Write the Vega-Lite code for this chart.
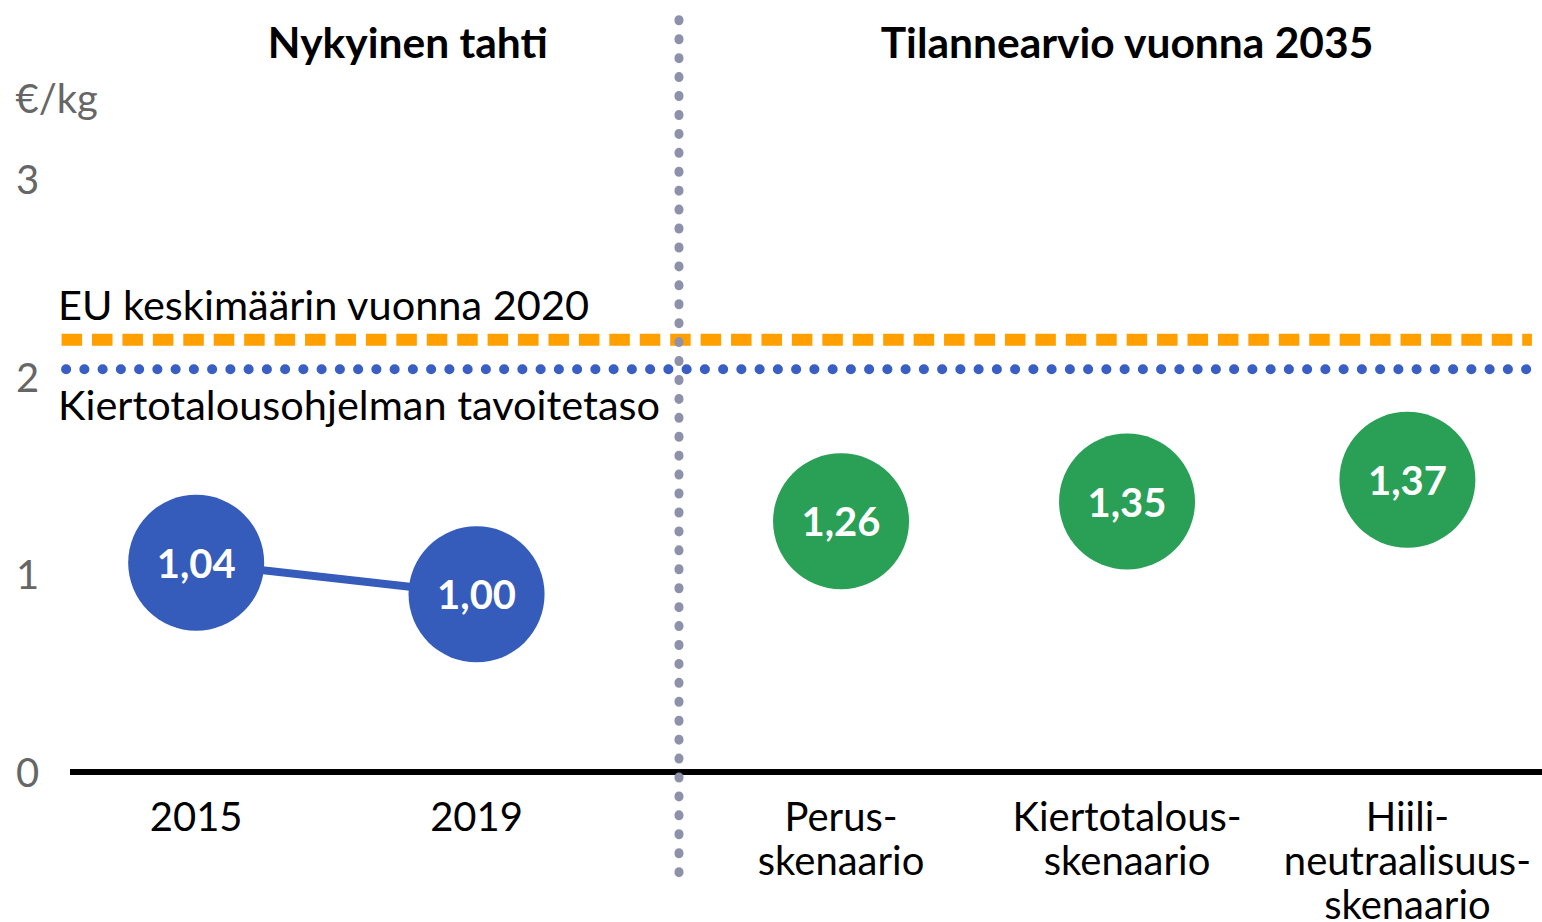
{
  "$schema": "https://vega.github.io/schema/vega-lite/v6.json",
  "width": 1472,
  "height": 691,
  "autosize": {"type": "none"},
  "padding": {"left": 70, "top": 81, "right": 0, "bottom": 150},
  "background": "white",
  "config": {"view": {"stroke": null}, "font": "Lato"},
  "datasets": {
    "points": [
      {"cat": "2015", "pos": 1, "value": 1.06, "label": "1,04", "group": "current"},
      {"cat": "2019", "pos": 2, "value": 0.9, "label": "1,00", "group": "current"},
      {"cat": "Perus-\nskenaario", "pos": 3.3, "value": 1.27, "label": "1,26", "group": "scenario"},
      {"cat": "Kiertotalous-\nskenaario", "pos": 4.32, "value": 1.37, "label": "1,35", "group": "scenario"},
      {"cat": "Hiili-\nneutraalisuus-\nskenaario", "pos": 5.32, "value": 1.48, "label": "1,37", "group": "scenario"}
    ],
    "titles": [
      {"text": "Nykyinen tahti", "pos": 1.755, "value": 3.616},
      {"text": "Tilannearvio vuonna 2035", "pos": 4.32, "value": 3.616}
    ],
    "reflabels": [
      {"text": "EU keskimäärin vuonna 2020", "pos": 0.507, "value": 2.29},
      {"text": "Kiertotalousohjelman tavoitetaso", "pos": 0.507, "value": 1.785}
    ]
  },
  "layer": [
    {
      "data": {"values": [{"x": 0.55, "x2": 5.8, "y": 0}]},
      "mark": {"type": "rule", "color": "black", "strokeWidth": 6},
      "encoding": {
        "x": {"field": "x", "type": "quantitative", "scale": {"domain": [0.55, 5.8], "nice": false, "zero": false}, "axis": null},
        "x2": {"field": "x2"},
        "y": {"field": "y", "type": "quantitative", "scale": {"domain": [0, 3.5], "nice": false, "zero": false},
          "axis": {"values": [0, 1, 2, 3], "format": "d", "domain": false, "ticks": false, "grid": false, "labelFontSize": 40, "labelColor": "#666666",
            "labelAlign": "center", "labelPadding": 43, "labelBaseline": "middle", "labelFont": "Lato", "labelOffset": 2,
            "title": "€/kg", "titleAngle": 0, "titleAlign": "left", "titleBaseline": "middle", "titleX": -55, "titleY": 19,
            "titleFontSize": 40, "titleFontWeight": "normal", "titleColor": "#666666", "titleFont": "Lato"}}
      }
    },
    {
      "data": {"values": [{"x": 0.52, "x2": 5.764, "y": 2.19}]},
      "mark": {"type": "rule", "color": "#FFA000", "strokeWidth": 12, "strokeDash": [20.5, 9.93], "strokeCap": "butt"},
      "encoding": {
        "x": {"field": "x", "type": "quantitative"},
        "x2": {"field": "x2"},
        "y": {"field": "y", "type": "quantitative"}
      }
    },
    {
      "data": {"values": [{"x": 0.536, "x2": 5.747, "y": 2.04}]},
      "mark": {"type": "rule", "color": "#3A5FC4", "strokeWidth": 10, "strokeDash": [0.1, 18.15], "strokeCap": "round"},
      "encoding": {
        "x": {"field": "x", "type": "quantitative"},
        "x2": {"field": "x2"},
        "y": {"field": "y", "type": "quantitative"}
      }
    },
    {
      "data": {"values": [{"x": 2.722, "y": 3.81, "y2": -0.51}]},
      "mark": {"type": "rule", "color": "#8D91AA", "strokeWidth": 9, "strokeDash": [1, 17.93], "strokeCap": "round"},
      "encoding": {
        "x": {"field": "x", "type": "quantitative"},
        "y": {"field": "y", "type": "quantitative"},
        "y2": {"field": "y2"}
      }
    },
    {
      "data": {"name": "points"},
      "transform": [{"filter": "datum.group === 'current'"}],
      "mark": {"type": "line", "color": "#355BBB", "strokeWidth": 8},
      "encoding": {
        "x": {"field": "pos", "type": "quantitative"},
        "y": {"field": "value", "type": "quantitative"}
      }
    },
    {
      "data": {"name": "points"},
      "mark": {"type": "point", "shape": "circle", "filled": true, "opacity": 1, "size": 18496},
      "encoding": {
        "x": {"field": "pos", "type": "quantitative"},
        "y": {"field": "value", "type": "quantitative"},
        "color": {"field": "group", "type": "nominal", "scale": {"domain": ["current", "scenario"], "range": ["#355BBB", "#2AA057"]}, "legend": null}
      }
    },
    {
      "data": {"name": "points"},
      "mark": {"type": "text", "color": "white", "fontSize": 40, "fontWeight": "bold", "baseline": "middle", "align": "center", "dy": 3},
      "encoding": {
        "x": {"field": "pos", "type": "quantitative"},
        "y": {"field": "value", "type": "quantitative"},
        "text": {"field": "label"}
      }
    },
    {
      "data": {"name": "points"},
      "mark": {"type": "text", "color": "black", "fontSize": 40, "baseline": "alphabetic", "align": "center", "lineBreak": "\n", "lineHeight": 44},
      "encoding": {
        "x": {"field": "pos", "type": "quantitative"},
        "y": {"datum": -0.3, "type": "quantitative"},
        "text": {"field": "cat"}
      }
    },
    {
      "data": {"name": "titles"},
      "mark": {"type": "text", "color": "black", "fontSize": 42.5, "fontWeight": "bold", "baseline": "alphabetic", "align": "center"},
      "encoding": {
        "x": {"field": "pos", "type": "quantitative"},
        "y": {"field": "value", "type": "quantitative"},
        "text": {"field": "text"}
      }
    },
    {
      "data": {"name": "reflabels"},
      "mark": {"type": "text", "color": "black", "fontSize": 41.5, "baseline": "alphabetic", "align": "left"},
      "encoding": {
        "x": {"field": "pos", "type": "quantitative"},
        "y": {"field": "value", "type": "quantitative"},
        "text": {"field": "text"}
      }
    }
  ]
}
